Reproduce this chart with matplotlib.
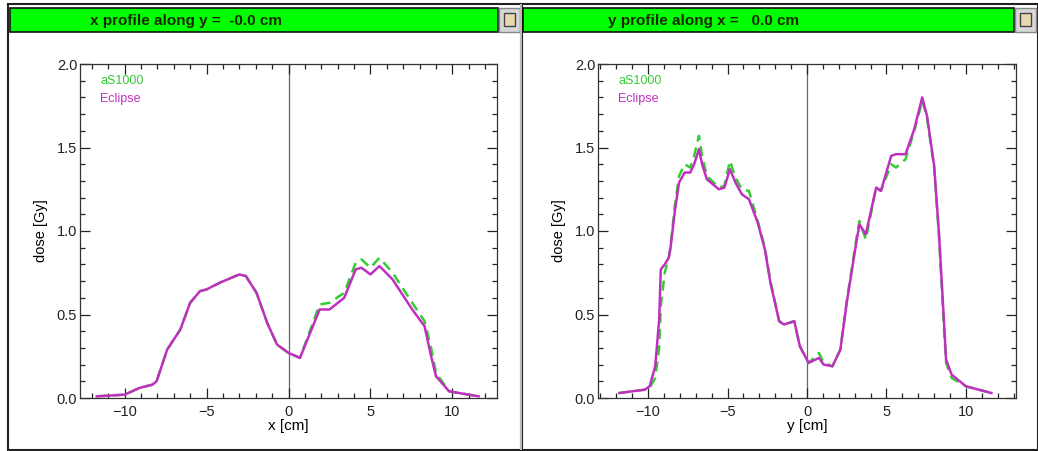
import numpy as np
import matplotlib
matplotlib.use('Agg')
import matplotlib.pyplot as plt
from matplotlib.patches import Rectangle
from matplotlib.ticker import MultipleLocator

plt.rcParams['font.family'] = ['Liberation Sans', 'DejaVu Sans']

# x profile along y = -0.0 cm
x_pos = [-11.7, -10.0, -9.1, -8.3, -8.05, -7.4, -6.6, -6.0, -5.4, -5.0, -4.2, -3.0, -2.6,
         -1.95, -1.3, -0.7, 0.0, 0.7, 1.9, 2.5, 3.4, 4.1, 4.45, 5.0, 5.55, 6.35, 7.55,
         8.3, 8.7, 9.0, 9.8, 11.6]
x_eclipse = [0.01, 0.02, 0.06, 0.08, 0.10, 0.29, 0.41, 0.57, 0.64, 0.65, 0.69, 0.74, 0.73,
             0.63, 0.45, 0.32, 0.27, 0.24, 0.53, 0.53, 0.60, 0.77, 0.78, 0.74, 0.79, 0.71, 0.53,
             0.43, 0.25, 0.13, 0.04, 0.01]
x_as1000 = [0.01, 0.02, 0.06, 0.08, 0.10, 0.29, 0.41, 0.57, 0.64, 0.65, 0.69, 0.74, 0.73,
            0.63, 0.45, 0.32, 0.27, 0.24, 0.56, 0.57, 0.63, 0.81, 0.83, 0.78, 0.84, 0.75, 0.57,
            0.46, 0.30, 0.15, 0.04, 0.01]

# y profile along x = 0.0 cm
y_pos = [-11.8, -10.2, -9.9, -9.55, -9.3, -9.2, -8.95, -8.7, -8.6, -8.3, -8.05, -7.7, -7.35,
         -7.1, -6.8, -6.6, -6.3, -5.55, -5.2, -4.85, -4.5, -4.1, -3.65, -3.1, -2.65, -2.3,
         -1.75, -1.45, -0.8, -0.45, 0.1, 0.75, 1.05, 1.6, 2.1, 2.5, 3.1, 3.3, 3.7, 4.35,
         4.65, 5.3, 5.6, 6.2, 6.75, 7.25, 7.55, 8.0, 8.3, 8.6, 8.75, 9.1, 10.0, 11.6]
y_eclipse = [0.03, 0.05, 0.07, 0.19, 0.47, 0.77, 0.80, 0.84, 0.89, 1.13, 1.29, 1.35, 1.35,
             1.40, 1.49, 1.40, 1.31, 1.25, 1.26, 1.37, 1.29, 1.22, 1.19, 1.05, 0.89, 0.69,
             0.46, 0.44, 0.46, 0.31, 0.21, 0.24, 0.20, 0.19, 0.29, 0.57, 0.93, 1.04, 0.98, 1.26,
             1.24, 1.45, 1.46, 1.46, 1.61, 1.80, 1.69, 1.39, 0.99, 0.49, 0.23, 0.14, 0.07, 0.03]
y_as1000 = [0.03, 0.05, 0.06, 0.12, 0.30, 0.55, 0.75, 0.84, 0.90, 1.16, 1.33, 1.40, 1.38,
            1.45, 1.57, 1.45, 1.33, 1.26, 1.27, 1.42, 1.32, 1.25, 1.24, 1.06, 0.90, 0.70,
            0.46, 0.44, 0.46, 0.31, 0.21, 0.27, 0.21, 0.19, 0.29, 0.58, 0.95, 1.06, 0.95, 1.26,
            1.24, 1.40, 1.38, 1.43, 1.60, 1.78, 1.68, 1.38, 0.98, 0.45, 0.21, 0.12, 0.07, 0.03]

panels = [
    ('x profile along y =  -0.0 cm', 'x [cm]', x_pos, x_as1000, x_eclipse, 12.72),
    ('y profile along x =   0.0 cm', 'y [cm]', y_pos, y_as1000, y_eclipse, 13.15),
]

W, H = 1038, 451
fig = plt.figure(figsize=(W / 100, H / 100), dpi=100)
fig.patch.set_facecolor('white')


def px_rect(x, y, w, h, **kw):
    fig.patches.append(Rectangle((x / W, 1 - (y + h) / H), w / W, h / H,
                                 transform=fig.transFigure, figure=fig, zorder=-5, **kw))


# window frames
for wx, ww in [(8, 514), (521, 517)]:
    px_rect(wx, 4, ww, 446, facecolor='none', edgecolor='#222222', lw=1.5)
    px_rect(wx + 2, 8, ww - 26, 24, facecolor='#00ff00', edgecolor='#111111', lw=1.2)
    px_rect(wx + ww - 23, 8, 21, 24, facecolor='#d8d8d8', edgecolor='#888888', lw=1)
    px_rect(wx + ww - 18, 13, 11, 13, facecolor='#e8d8b0', edgecolor='#444444', lw=1)
px_rect(520, 4, 2, 446, facecolor='#bbbbbb', edgecolor='none')

axes_left = [80, 598]
axes_width = [417, 418]
title_x = [90, 608]

for i, (title, xlab, xs, green, magenta, lim) in enumerate(panels):
    ax = fig.add_axes([axes_left[i] / W, 1 - 398 / H, axes_width[i] / W, 334 / H])
    ax.patch.set_alpha(0)
    ax.axvline(0, color='#666666', lw=0.9, zorder=1)
    ax.plot(xs, green, color='#33cc33', lw=1.8, ls=(0, (4, 2.5)), zorder=2)
    ax.plot(xs, magenta, color='#c030c0', lw=1.8, zorder=3)
    ax.set_xlim(-lim, lim)
    ax.set_ylim(0, 2.0)
    ax.xaxis.set_major_locator(MultipleLocator(5))
    ax.xaxis.set_minor_locator(MultipleLocator(1))
    ax.yaxis.set_major_locator(MultipleLocator(0.5))
    ax.yaxis.set_minor_locator(MultipleLocator(0.1))
    ax.yaxis.set_major_formatter(plt.FuncFormatter(lambda v, p: '%.1f' % v))
    ax.tick_params(which='both', direction='in', top=True, right=True,
                   labelsize=10.5, colors='#222222', width=0.9)
    ax.tick_params(which='major', length=7)
    ax.tick_params(which='minor', length=3.5)
    ax.tick_params(axis='x', which='major', pad=5)
    ax.tick_params(axis='y', which='major', pad=2)
    for s in ax.spines.values():
        s.set_linewidth(0.9)
        s.set_color('#333333')
    ax.set_xlabel(xlab, fontsize=11, labelpad=0)
    ax.set_ylabel('dose [Gy]', fontsize=10.5, labelpad=6)
    ax.text(0.048, 0.95, 'aS1000', transform=ax.transAxes, color='#33cc33',
            fontsize=9, va='center')
    ax.text(0.048, 0.895, 'Eclipse', transform=ax.transAxes, color='#c030c0',
            fontsize=9, va='center')
    fig.text(title_x[i] / W, 1 - 21 / H, title, fontsize=11, fontweight='bold',
             color='#1a2a00', va='center')

fig.savefig('out.png', dpi=100, facecolor='white')
